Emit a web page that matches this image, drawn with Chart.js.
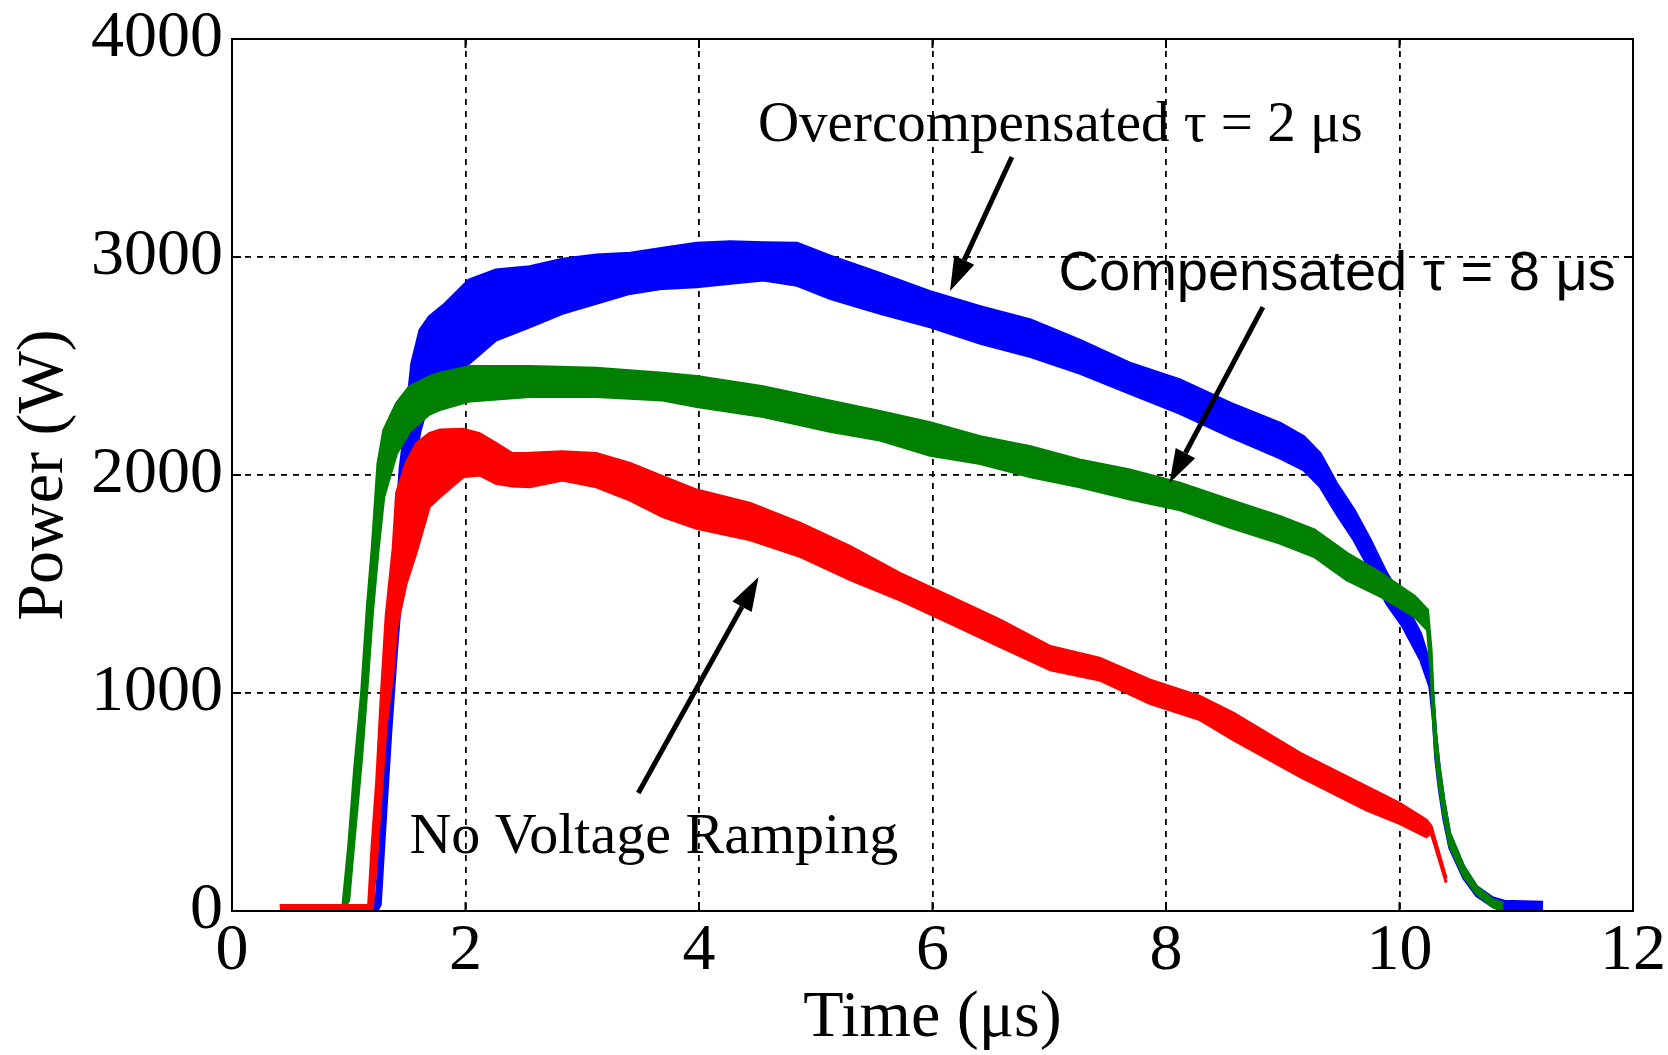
<!DOCTYPE html>
<html>
<head>
<meta charset="utf-8">
<script src="https://cdn.jsdelivr.net/npm/chart.js@4.4.1/dist/chart.umd.min.js"></script>
<style>
  body { margin: 0; background: #fff; }
  #power-chart { display: block; }
</style>
</head>
<body>
<canvas id="power-chart" width="1668" height="1055"></canvas>
<script>
// Envelopes of the noisy traces (time in us, power in W)
const blueTime = [0.41, 1.20, 1.24, 1.27, 1.30, 1.33, 1.36, 1.39, 1.41, 1.44, 1.48, 1.54, 1.61, 1.69, 1.83, 2.03, 2.26, 2.55, 2.83, 3.12, 3.41, 3.69, 3.98, 4.27, 4.55, 4.84, 5.12, 5.55, 5.98, 6.41, 6.84, 7.26, 7.69, 8.12, 8.55, 8.98, 9.18, 9.32, 9.46, 9.61, 9.75, 9.89, 10.03, 10.18, 10.26, 10.29, 10.31, 10.34, 10.38, 10.43, 10.55, 10.66, 10.80, 10.90, 11.23];
const blueUpper = [25, 25, 80, 330, 590, 850, 1050, 1200, 1800, 2030, 2206, 2513, 2665, 2726, 2787, 2894, 2940, 2955, 2990, 3009, 3017, 3040, 3063, 3070, 3065, 3063, 3005, 2925, 2841, 2772, 2711, 2619, 2513, 2436, 2330, 2237, 2176, 2099, 1962, 1840, 1702, 1549, 1427, 1274, 1136, 968, 815, 662, 509, 356, 204, 112, 60, 45, 40];
const blueLower = [0, 0, 0, 30, 300, 560, 820, 1050, 1200, 1400, 1700, 2000, 2200, 2350, 2450, 2512, 2619, 2680, 2742, 2787, 2833, 2856, 2864, 2880, 2894, 2870, 2810, 2742, 2680, 2604, 2543, 2467, 2375, 2283, 2176, 2077, 2023, 1947, 1824, 1702, 1564, 1411, 1304, 1152, 1029, 876, 700, 560, 420, 290, 150, 70, 20, 0, 0];

const greenTime = [0.41, 0.95, 1.00, 1.05, 1.11, 1.16, 1.20, 1.25, 1.30, 1.41, 1.52, 1.69, 1.78, 2.04, 2.55, 3.12, 3.69, 3.98, 4.55, 5.12, 5.55, 5.98, 6.41, 6.84, 7.26, 7.69, 8.12, 8.55, 8.98, 9.27, 9.55, 9.84, 10.13, 10.24, 10.27, 10.29, 10.31, 10.34, 10.38, 10.43, 10.55, 10.66, 10.80, 10.89];
const greenUpper = [20, 25, 300, 650, 1000, 1400, 1656, 2052, 2206, 2329, 2405, 2450, 2467, 2498, 2498, 2490, 2467, 2452, 2405, 2340, 2291, 2240, 2176, 2130, 2069, 2023, 1962, 1885, 1809, 1748, 1641, 1549, 1443, 1381, 1200, 968, 815, 662, 509, 356, 204, 112, 51, 36];
const greenLower = [0, 0, 50, 350, 700, 1050, 1350, 1650, 1900, 2100, 2200, 2279, 2300, 2340, 2360, 2360, 2344, 2314, 2268, 2200, 2160, 2090, 2053, 1992, 1946, 1890, 1840, 1760, 1687, 1626, 1519, 1443, 1351, 1289, 1100, 876, 720, 580, 440, 300, 160, 80, 20, 0];

const redTime = [0.41, 1.17, 1.20, 1.24, 1.28, 1.32, 1.38, 1.41, 1.49, 1.58, 1.69, 1.78, 1.98, 2.12, 2.26, 2.40, 2.55, 2.83, 3.12, 3.41, 3.69, 3.98, 4.44, 4.87, 5.30, 5.72, 6.15, 6.58, 7.01, 7.43, 7.86, 8.29, 8.58, 9.15, 9.72, 10.00, 10.23, 10.27, 10.40];
const redUpper = [25, 25, 300, 600, 1000, 1350, 1661, 1917, 2052, 2145, 2190, 2206, 2210, 2190, 2145, 2099, 2100, 2107, 2099, 2053, 1992, 1931, 1870, 1778, 1671, 1549, 1442, 1335, 1213, 1160, 1060, 984, 907, 723, 570, 494, 417, 390, 150];
const redLower = [0, 0, 0, 250, 550, 850, 1100, 1300, 1500, 1650, 1855, 1900, 1992, 2000, 1962, 1950, 1946, 1977, 1946, 1885, 1809, 1755, 1703, 1626, 1519, 1427, 1320, 1213, 1106, 1060, 953, 878, 785, 616, 463, 402, 341, 360, 130];

const timeTicks = [0, 2, 4, 6, 8, 10, 12];
const powerTicks = [0, 1000, 2000, 3000, 4000];

const SERIF = "'Liberation Serif', 'Times New Roman', serif";
const SANS = "'Liberation Sans', Arial, sans-serif";

function toPoints(xs, ys) {
  return xs.map((x, i) => ({ x: x, y: ys[i] }));
}

// upper trace fills down to the lower trace -> noisy band
function band(name, color, xs, upper, lower) {
  return [
    {
      label: name + " upper",
      data: toPoints(xs, upper),
      borderColor: color,
      backgroundColor: color,
      borderWidth: 3,
      pointRadius: 0,
      tension: 0,
      fill: "+1",
    },
    {
      label: name + " lower",
      data: toPoints(xs, lower),
      borderColor: color,
      backgroundColor: color,
      borderWidth: 3,
      pointRadius: 0,
      tension: 0,
      fill: false,
    },
  ];
}

function drawArrow(ctx, x1, y1, x2, y2) {
  const ang = Math.atan2(y2 - y1, x2 - x1);
  const headLen = 34;
  const headW = 11;
  const bx = x2 - headLen * Math.cos(ang);
  const by = y2 - headLen * Math.sin(ang);
  ctx.save();
  ctx.strokeStyle = "#000";
  ctx.fillStyle = "#000";
  ctx.lineWidth = 5;
  ctx.beginPath();
  ctx.moveTo(x1, y1);
  ctx.lineTo(bx, by);
  ctx.stroke();
  ctx.beginPath();
  ctx.moveTo(x2, y2);
  ctx.lineTo(bx + headW * Math.sin(ang), by - headW * Math.cos(ang));
  ctx.lineTo(bx - headW * Math.sin(ang), by + headW * Math.cos(ang));
  ctx.closePath();
  ctx.fill();
  ctx.restore();
}

// text labels and arrows, placed in data units
const annotations = {
  id: "annotations",
  afterDatasetsDraw(chart) {
    const { ctx } = chart;
    const xs = chart.scales.x;
    const ys = chart.scales.y;
    const px = (v) => xs.getPixelForValue(v);
    const py = (v) => ys.getPixelForValue(v);

    ctx.save();
    ctx.fillStyle = "#000";
    ctx.textBaseline = "alphabetic";
    ctx.textAlign = "left";
    ctx.font = "57px " + SERIF;
    ctx.fillText("Overcompensated \u03c4 = 2 \u03bcs", px(4.505), py(3532));
    ctx.font = "58px " + SERIF;
    ctx.fillText("No Voltage Ramping", px(1.52), py(266));
    ctx.font = "56px " + SANS;
    ctx.fillText("Compensated \u03c4 = 8 \u03bcs", px(7.08), py(2848));
    ctx.restore();

    drawArrow(ctx, px(6.68), py(3459), px(6.15), py(2844));
    drawArrow(ctx, px(8.83), py(2770), px(8.03), py(1963));
    drawArrow(ctx, px(3.48), py(541), px(4.51), py(1532));
  },
  afterDraw(chart) {
    const { ctx, chartArea: a } = chart;
    const xs = chart.scales.x;
    const ys = chart.scales.y;
    ctx.save();
    ctx.strokeStyle = "#000";
    ctx.lineWidth = 2;
    ctx.strokeRect(a.left, a.top, a.right - a.left, a.bottom - a.top);
    // inward tick marks on all four sides
    ctx.beginPath();
    timeTicks.forEach((t) => {
      const x = xs.getPixelForValue(t);
      ctx.moveTo(x, a.bottom);
      ctx.lineTo(x, a.bottom - 9);
      ctx.moveTo(x, a.top);
      ctx.lineTo(x, a.top + 9);
    });
    powerTicks.forEach((p) => {
      const y = ys.getPixelForValue(p);
      ctx.moveTo(a.left, y);
      ctx.lineTo(a.left + 9, y);
      ctx.moveTo(a.right, y);
      ctx.lineTo(a.right - 9, y);
    });
    ctx.stroke();
    ctx.restore();
  },
};

const ctx = document.getElementById("power-chart").getContext("2d");
const powerChart = new Chart(ctx, {
  type: "line",
  data: {
    datasets: [
      ...band("No Voltage Ramping", "#ff0000", redTime, redUpper, redLower),
      ...band("Compensated", "#008000", greenTime, greenUpper, greenLower),
      ...band("Overcompensated", "#0000ff", blueTime, blueUpper, blueLower),
    ],
  },
  options: {
    responsive: false,
    animation: false,
    devicePixelRatio: 1,
    layout: { padding: { top: 39, right: 35, left: 0, bottom: 0 } },
    plugins: {
      legend: { display: false },
      tooltip: { enabled: false },
    },
    scales: {
      x: {
        type: "linear",
        min: 0,
        max: 12,
        afterFit: (scale) => {
          scale.height = 144;
          scale.paddingLeft = 0;
          scale.paddingRight = 0;
        },
        afterBuildTicks: (scale) => {
          scale.ticks = timeTicks.map((v) => ({ value: v }));
        },
        ticks: {
          color: "#000",
          font: { family: SERIF, size: 66, lineHeight: 1 },
          padding: 8,
          maxRotation: 0,
          autoSkip: false,
          callback: (v) => String(v),
        },
        grid: { color: "#000", lineWidth: 1.8, drawTicks: false },
        border: { display: true, color: "#000", width: 2, dash: [6, 6] },
        title: {
          display: true,
          text: "Time (\u03bcs)",
          color: "#000",
          font: { family: SERIF, size: 66, lineHeight: 1 },
          padding: { top: 0, bottom: 3 },
        },
      },
      y: {
        type: "linear",
        min: 0,
        max: 4000,
        afterFit: (scale) => {
          scale.width = 232;
          scale.paddingTop = 0;
          scale.paddingBottom = 0;
        },
        afterBuildTicks: (scale) => {
          scale.ticks = powerTicks.map((v) => ({ value: v }));
        },
        ticks: {
          color: "#000",
          font: { family: SERIF, size: 66, lineHeight: 1 },
          padding: 9,
          autoSkip: false,
          callback: (v) => String(v),
        },
        grid: { color: "#000", lineWidth: 1.8, drawTicks: false },
        border: { display: true, color: "#000", width: 2, dash: [6, 6] },
        title: {
          display: true,
          text: "Power (W)",
          color: "#000",
          font: { family: SERIF, size: 66, lineHeight: 1 },
          padding: { top: 12, bottom: 0 },
        },
      },
    },
  },
  plugins: [annotations],
});
</script>
</body>
</html>
